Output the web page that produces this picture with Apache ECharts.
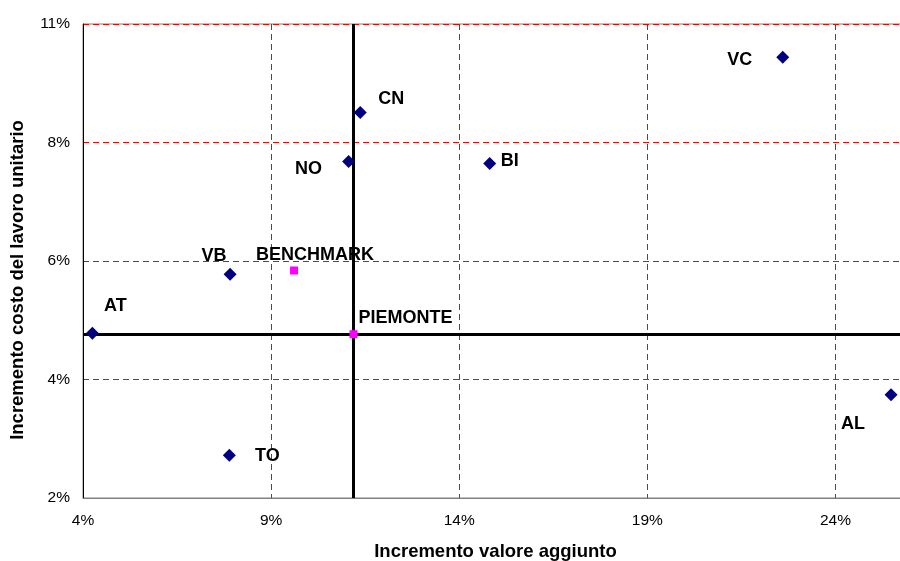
<!DOCTYPE html>
<html>
<head>
<meta charset="utf-8">
<script src="https://cdn.jsdelivr.net/npm/echarts@6/dist/echarts.min.js"></script>
<style>html,body{margin:0;padding:0;background:#fff;}#c{width:900px;height:561px;}</style>
</head>
<body>
<div id="c"></div>
<script>
// Provinces (diamonds)
const provNames = ['VC', 'CN', 'NO', 'BI', 'VB', 'AT', 'TO', 'AL'];
const provValoreAggiunto = [22.60, 11.37, 11.06, 14.81, 7.91, 4.25, 7.89, 25.48];
const provCostoLavoro   = [9.87, 8.82, 7.89, 7.85, 5.75, 4.63, 2.31, 3.46];
// Reference points (squares)
const refNames = ['BENCHMARK', 'PIEMONTE'];
const refValoreAggiunto = [9.61, 11.19];
const refCostoLavoro = [5.82, 4.61];
// Tick labels
const xTickLabels = ['4%', '9%', '14%', '19%', '24%'];
const yTickLabels = ['2%', '4%', '6%', '8%', '11%'];

// label placement (styling, px offsets from point)
const labelOffsets = {
  VC: [-43, 3], CN: [31, -13], NO: [-40, 8], BI: [20, -3], VB: [-16, -18],
  AT: [23, -27], TO: [38, 1], AL: [-38, 29], BENCHMARK: [21, -15], PIEMONTE: [52, -16]
};

const labelFont = { fontFamily: 'Liberation Sans', fontWeight: 'bold', fontSize: 18, color: '#000', opacity: 1 };

function mkData(names, xs, ys) {
  return names.map((n, i) => ({
    name: n,
    value: [xs[i], ys[i]],
    label: Object.assign({ show: true, formatter: n, position: 'inside', align: 'center', verticalAlign: 'middle', offset: labelOffsets[n] }, labelFont)
  }));
}

const pieIdx = refNames.indexOf('PIEMONTE');
const chart = echarts.init(document.getElementById('c'), null, { renderer: 'canvas' });
chart.setOption({
  animation: false,
  backgroundColor: '#fff',
  grid: { left: 83, top: 24, right: -2, bottom: 63, containLabel: false, outerBoundsMode: 'none',
    show: true, borderColor: '#808080', borderWidth: 1, backgroundColor: '#fff' },
  xAxis: {
    type: 'value', min: 4, max: 25.77, interval: 5,
    name: 'Incremento valore aggiunto', nameLocation: 'middle', nameGap: 44,
    nameTextStyle: { fontFamily: 'Liberation Sans', fontWeight: 'bold', fontSize: 18.5, color: '#000', padding: [0, 0, 0, 6] },
    axisLine: { show: true, lineStyle: { color: '#808080', width: 1 } },
    axisTick: { show: false },
    axisLabel: { showMaxLabel: false, margin: 15, fontFamily: 'Liberation Sans', fontSize: 15.5, color: '#000',
      formatter: (v, i) => xTickLabels[i] !== undefined ? xTickLabels[i] : '' },
    splitLine: { show: true, lineStyle: { color: '#ff0000', type: [6, 4], width: 1 } }
  },
  yAxis: {
    type: 'value', min: 1.5, max: 10.5, interval: 2.25,
    name: 'Incremento costo del lavoro unitario', nameLocation: 'middle', nameGap: 56,
    nameTextStyle: { fontFamily: 'Liberation Sans', fontWeight: 'bold', fontSize: 18.5, color: '#000', padding: [0, 38, 0, 0] },
    axisLine: { show: true, lineStyle: { color: '#000', width: 1 } },
    axisTick: { show: false },
    axisLabel: { margin: 13, fontFamily: 'Liberation Sans', fontSize: 15.5, color: '#000',
      formatter: (v, i) => yTickLabels[i] !== undefined ? yTickLabels[i] : '' },
    splitLine: { show: true, lineStyle: { color: '#ff0000', type: [6, 4], width: 1 } }
  },
  series: [
    {
      type: 'scatter', z: 1, data: [], silent: true,
      markLine: {
        z: 1, silent: true, symbol: 'none', animation: false,
        lineStyle: { color: '#000', width: 3, type: 'solid', opacity: 1 },
        label: { show: false },
        emphasis: { disabled: true },
        data: [ { xAxis: refValoreAggiunto[pieIdx] }, { yAxis: refCostoLavoro[pieIdx] } ]
      }
    },
    {
      type: 'scatter', z: 3, symbol: 'diamond', symbolSize: 13,
      itemStyle: { color: '#000080', opacity: 1 },
      data: mkData(provNames, provValoreAggiunto, provCostoLavoro)
    },
    {
      type: 'scatter', z: 4, symbol: 'rect', symbolSize: 8,
      itemStyle: { color: '#ff00ff', opacity: 1 },
      data: mkData(refNames, refValoreAggiunto, refCostoLavoro)
    }
  ]
});
</script>
</body>
</html>
